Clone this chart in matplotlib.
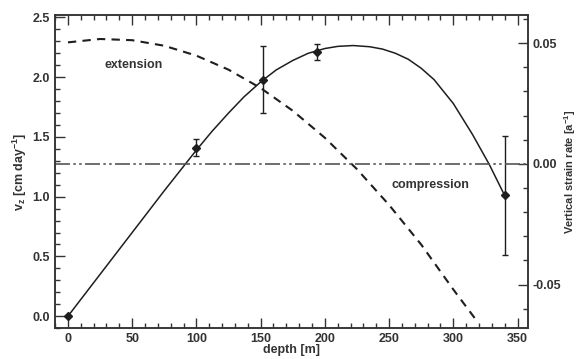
import matplotlib
matplotlib.use("Agg")
import matplotlib.pyplot as plt
from matplotlib.ticker import MultipleLocator

plt.rcParams["font.family"] = ["Liberation Sans", "DejaVu Sans"]
plt.rcParams["font.weight"] = "bold"
plt.rcParams["mathtext.fontset"] = "custom"
plt.rcParams["mathtext.rm"] = "Liberation Sans:bold"
plt.rcParams["mathtext.bf"] = "Liberation Sans:bold"
plt.rcParams["mathtext.default"] = "bf"

# measured vertical velocity (diamonds with error bars)
depth_obs = [0, 100, 152, 194, 340]
vz_obs = [0.0, 1.41, 1.98, 2.21, 1.01]
vz_err = [0.0, 0.07, 0.28, 0.065, 0.50]

# fitted velocity curve (left axis)
depth_fit = [0, 25, 50, 75, 100, 112, 125, 137, 150, 162, 175, 187, 200, 210, 222,
             235, 245, 255, 265, 275, 285, 300, 315, 328, 340]
vz_fit = [0.0, 0.35, 0.70, 1.05, 1.39, 1.545, 1.70, 1.835, 1.96, 2.06, 2.14, 2.20,
          2.24, 2.258, 2.265, 2.255, 2.235, 2.20, 2.15, 2.075, 1.98, 1.78, 1.52,
          1.27, 1.01]

# vertical strain rate (right axis)
depth_sr = [0, 25, 50, 75, 100, 125, 150, 175, 200, 225, 250, 275, 300, 319]
strain_rate = [0.0503, 0.0517, 0.0512, 0.0489, 0.0448, 0.0390, 0.0314, 0.0220,
               0.0108, -0.0022, -0.0170, -0.0334, -0.0520, -0.0655]

INK = "#1e1e1e"
FS = 9

fig = plt.figure(figsize=(5.8, 3.59), dpi=100)
ax = fig.add_axes([0.095, 0.086, 0.815, 0.872])
ax2 = ax.twinx()

ax.plot(depth_fit, vz_fit, color=INK, lw=1.1, zorder=3)
ax.errorbar(depth_obs, vz_obs, yerr=vz_err, fmt="D", color=INK, ms=4.5,
            elinewidth=1.0, capsize=2.5, capthick=1.0, zorder=4)

ax2.plot(depth_sr, strain_rate, color=INK, lw=1.5, dashes=(4, 3))
ax2.axhline(0.0, color="#555", lw=1.2, dashes=(9, 2, 1.5, 2, 1.5, 2))

ax.text(51, 2.1, "extension", ha="center", va="center", fontsize=FS,
        fontweight="bold", color="#333")
ax.text(282, 1.10, "compression", ha="center", va="center", fontsize=FS,
        fontweight="bold", color="#333")

ax.set_xlim(-10, 358)
ax.set_ylim(-0.1, 2.52)
ax2.set_ylim(-0.068, 0.0616)

ax.xaxis.set_major_locator(MultipleLocator(50))
ax.xaxis.set_minor_locator(MultipleLocator(10))
ax.yaxis.set_major_locator(MultipleLocator(0.5))
ax.yaxis.set_minor_locator(MultipleLocator(0.1))
ax2.yaxis.set_major_locator(MultipleLocator(0.05))
ax2.yaxis.set_minor_locator(MultipleLocator(0.01))
ax.yaxis.set_major_formatter(lambda v, p: f"{v:.1f}")
ax2.yaxis.set_major_formatter(lambda v, p: "0.00" if abs(v) < 1e-9 else f"{v:.2f}")

ax.tick_params(which="both", direction="in", top=True, right=False, labelsize=FS,
               colors="#333", width=1.0)
ax.tick_params(which="major", length=7)
ax.tick_params(which="minor", length=3.5)
ax2.tick_params(which="both", direction="in", labelsize=FS, colors="#333", width=1.0)
ax2.tick_params(which="major", length=7)
ax2.tick_params(which="minor", length=3.5)
for a in (ax, ax2):
    for s in a.spines.values():
        s.set_linewidth(1.1)
        s.set_color("#333")

ax.set_xlabel("depth [m]", fontsize=FS, fontweight="bold", labelpad=-1, color="#333")
ax.set_ylabel(r"v$_z$ [cm day$^{-1}$]", fontsize=FS, fontweight="bold",
              labelpad=3, color="#333")
ax2.set_ylabel(r"Vertical strain rate [a$^{-1}$]", fontsize=8, fontweight="bold",
               labelpad=1, color="#333")

fig.canvas.draw()
for lbl in ax.get_xticklabels() + ax.get_yticklabels() + ax2.get_yticklabels():
    lbl.set_fontweight("bold")

fig.savefig("out.png", dpi=100)
